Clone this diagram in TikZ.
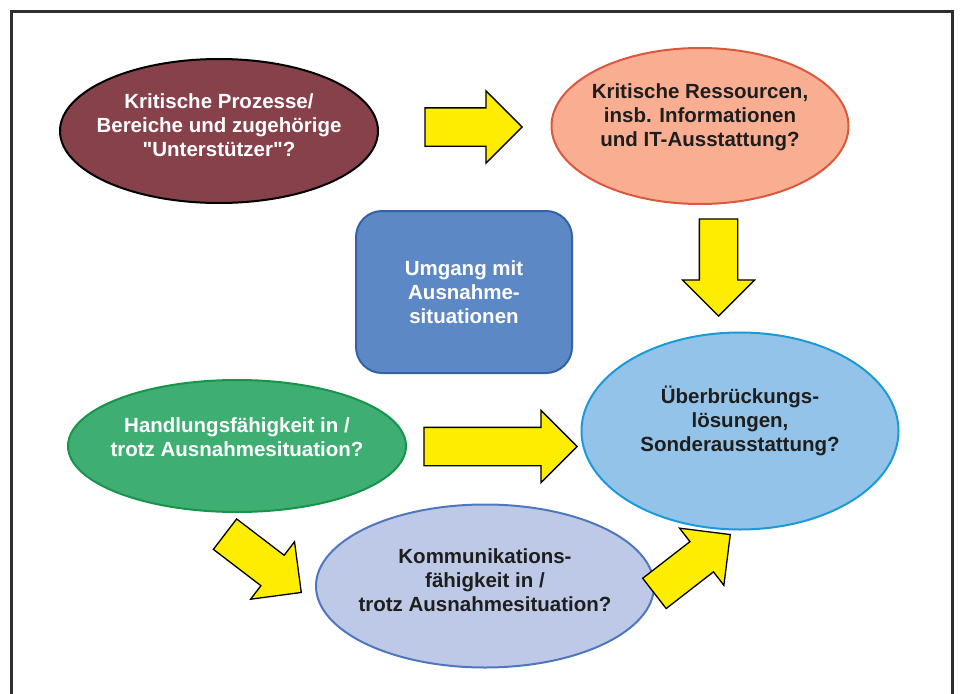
\documentclass[tikz,border=0pt]{standalone}
\usepackage{fontspec}
\setmainfont{Liberation Sans}
\usepackage{tikz}
\usetikzlibrary{positioning, shapes.geometric, shapes.arrows}
\definecolor{bmred}{HTML}{87414A}
\definecolor{bmsalmon}{HTML}{F9AD91}
\definecolor{bmsalmonline}{HTML}{DC583D}
\definecolor{bmblue}{HTML}{5D88C6}
\definecolor{bmblueline}{HTML}{3461A8}
\definecolor{bmgreen}{HTML}{3FAE73}
\definecolor{bmgreenline}{HTML}{16954A}
\definecolor{bmsky}{HTML}{93C3E8}
\definecolor{bmskyline}{HTML}{1C9AD8}
\definecolor{bmlav}{HTML}{BDC9E6}
\definecolor{bmlavline}{HTML}{4E77BE}
\definecolor{bmyellow}{HTML}{FFED00}
\definecolor{bmtext}{HTML}{1E1E1E}
\definecolor{bmframe}{HTML}{2E2E2E}

\begin{document}
\begin{tikzpicture}[
  x=1pt, y=-1pt,
  bubble/.style={ellipse, line width=2pt, inner sep=0pt},
  bubtext/.style={align=center, inner sep=0pt,
    font=\fontsize{20.5}{24}\selectfont\bfseries},
  blockarr/.style={single arrow, fill=bmyellow, draw=black, line width=1.3pt,
    inner xsep=0pt, inner ysep=18.5pt, single arrow head extend=17pt, anchor=tip},
]
\useasboundingbox (0,0) rectangle (960,693);
\clip (0,0) rectangle (960,693);
\draw[bmframe, line width=3pt] (11.5,11.5) rectangle (952,720);

% Ellipsen und Kasten
\node[bubble, fill=bmred, draw=black, minimum width=318pt, minimum height=144pt]
  (proz) at (219,131) {};
\node[bubtext, text=white] (proz-t) at (219,125)
  {Kritische Prozesse/\\Bereiche und zugehörige\\\textquotedbl Unterstützer\textquotedbl ?};

\node[bubble, fill=bmsalmon, draw=bmsalmonline, minimum width=297pt, minimum height=156pt]
  (ress) at (700,126) {};
\node[bubtext, text=bmtext] (ress-t) at (700,117)
  {Kritische Ressourcen,\\insb. Informationen\\und IT-Ausstattung?};

\node[rectangle, rounded corners=26pt, fill=bmblue, draw=bmblueline, line width=2pt,
  minimum width=216pt, minimum height=162pt, bubtext, text=white]
  (umg) at (464,292) {Umgang mit\\Ausnahme-\\situationen};

\node[bubble, fill=bmgreen, draw=bmgreenline, minimum width=338pt, minimum height=132pt]
  (hand) at (237,446) {};
\node[bubtext, text=white] (hand-t) at (237,437)
  {Handlungsfähigkeit in /\\trotz Ausnahmesituation?};

\node[bubble, fill=bmsky, draw=bmskyline, minimum width=317pt, minimum height=197pt]
  (ueber) at (740,431) {};
\node[bubtext, text=bmtext] (ueber-t) at (740,421)
  {Überbrückungs-\\lösungen,\\Sonderausstattung?};

\node[bubble, fill=bmlav, draw=bmlavline, minimum width=338pt, minimum height=163pt]
  (komm) at (485,586) {};
\node[bubtext, text=bmtext] (komm-t) at (485,580)
  {Kommunikations-\\fähigkeit in /\\trotz Ausnahmesituation?};

% gelbe Pfeile (an der Spitze verankert)
\foreach \n/\x/\y/\ang/\len in {a1/523/127/0/97, a2/718.5/317/-90/97,
    a3/578/446.5/0/153, a4/302/593/-37.4/96, a5/731/534/37.8/96} {
  \node[blockarr, rotate=\ang, minimum height=\len pt] (\n) at (\x,\y) {};
}
\end{tikzpicture}
\end{document}
